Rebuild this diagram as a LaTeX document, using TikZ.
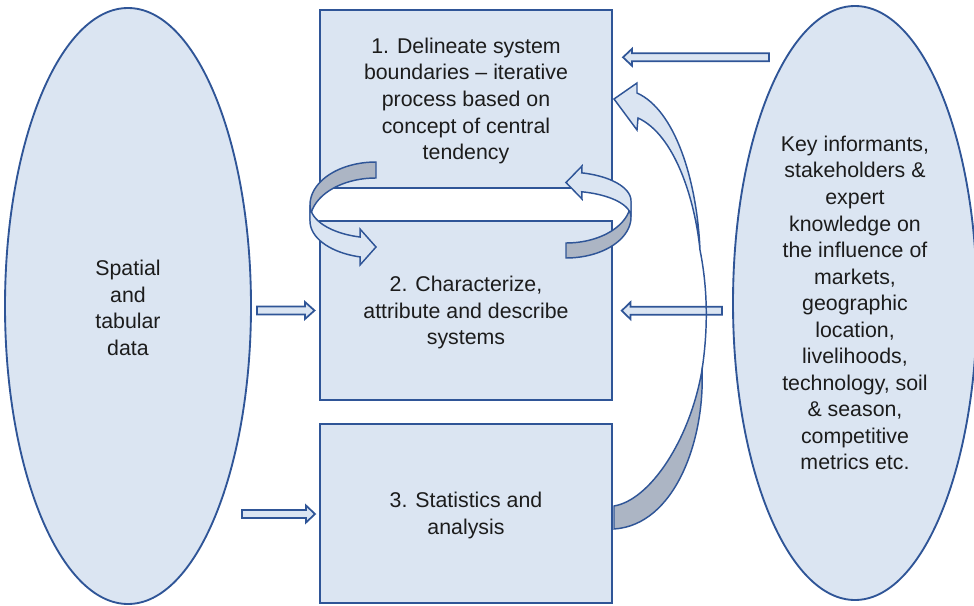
\documentclass[tikz,border=0pt]{standalone}
\usepackage{fontspec}
\setmainfont{Liberation Sans}
\usetikzlibrary{shapes.geometric}
\definecolor{pale}{RGB}{219,229,242}
\definecolor{edge}{RGB}{47,85,151}
\definecolor{shade}{RGB}{172,181,196}
\definecolor{ink}{RGB}{28,28,28}
% straight block arrow: tail x, head base x, tip x, centre y
\newcommand{\blockarrowpath}[4]{%
  \filldraw[blockarr] (#1,{#4-4}) -- (#2,{#4-4}) -- (#2,{#4-8.5}) -- (#3,#4)
    -- (#2,{#4+8.5}) -- (#2,{#4+4}) -- (#1,{#4+4}) -- cycle;}
\begin{document}
\begin{tikzpicture}[x=0.75pt,y=-0.75pt,
  txt/.style={font=\fontsize{16}{19.9}\selectfont, text=ink, align=center, inner sep=0pt},
  source/.style={ellipse, draw=edge, fill=pale, line width=1.4pt, inner sep=0pt},
  stepbox/.style={rectangle, draw=edge, fill=pale, line width=1.3pt,
    minimum width=219pt, inner sep=0pt},
  blockarr/.style={draw=edge, fill=pale, line width=1.3pt, line join=miter},
  ribbonfront/.style={draw=edge, fill=pale, line width=1.1pt, line join=miter},
  ribbonback/.style={draw=edge, fill=shade, line width=1.1pt, line join=miter}]

\useasboundingbox (0,0) rectangle (974,606);

% data sources
\node[source, minimum width=184.5pt, minimum height=447pt] (spatial) at (128,306) {};
\node[txt] (spatial-text) at ([yshift=-1.5pt]spatial.center)
  {Spatial\\and\\tabular\\data};
\node[source, minimum width=183pt, minimum height=445.5pt] (experts) at (855,303) {};
\node[txt] (experts-text) at (experts.center)
  {Key informants,\\stakeholders \&\\expert\\knowledge on\\the influence of\\markets,\\geographic\\location,\\livelihoods,\\technology, soil\\\& season,\\competitive\\metrics etc.};

% process steps
\node[stepbox, minimum height=133.5pt] (delineate) at (466,99) {};
\node[txt] (delineate-text) at ([yshift=-1.5pt]delineate.center)
  {1. Delineate system\\boundaries – iterative\\process based on\\concept of central\\tendency};
\node[stepbox, minimum height=134.25pt] (characterize) at (466,310.5) {};
\node[txt] (characterize-text) at ([yshift=-1.5pt]characterize.center)
  {2. Characterize,\\attribute and describe\\systems};
\node[stepbox, minimum height=134.25pt] (statistics) at (466,513.5) {};
\node[txt] (statistics-text) at ([yshift=-1.5pt]statistics.center)
  {3. Statistics and\\analysis};

% inputs from the sources
\blockarrowpath{257}{305}{314.5}{310.5}
\blockarrowpath{242}{306}{315}{514}
\blockarrowpath{769}{632}{623}{57.3}
\blockarrowpath{722}{630.5}{621.7}{310.7}

% left loop: step 1 down to step 2
\filldraw[ribbonback]
  plot[domain=270:180, samples=40, variable=\t] ({376+66*cos(\t)},{205+43*sin(\t)})
  -- plot[domain=180:270, samples=40, variable=\t] ({376+66*cos(\t)},{221+43*sin(\t)})
  -- cycle;
\filldraw[ribbonfront]
  plot[domain=180:104, samples=40, variable=\t] ({376+66*cos(\t)},{205+33*sin(\t)})
  -- (360,229) -- (376,247) -- (360,265)
  -- plot[domain=104:180, samples=40, variable=\t] ({376+66*cos(\t)},{221+37*sin(\t)})
  -- cycle;

% right loop: step 2 back up to step 1
\filldraw[ribbonback]
  plot[domain=90:0, samples=40, variable=\t] ({566+65*cos(\t)},{217+41*sin(\t)})
  -- plot[domain=0:90, samples=40, variable=\t] ({566+65*cos(\t)},{201+42*sin(\t)})
  -- cycle;
\filldraw[ribbonfront]
  plot[domain=0:-76, samples=40, variable=\t] ({566+65*cos(\t)},{201+29*sin(\t)})
  -- (582,166) -- (566,182.5) -- (582,199)
  -- plot[domain=-76:0, samples=40, variable=\t] ({566+65*cos(\t)},{217+26*sin(\t)})
  -- cycle;

% feedback ribbon from step 3 back to step 1
\filldraw[ribbonback] (614,506) .. controls (650,500) and (690,440) .. (702,370)
  .. controls (705,440) and (675,525) .. (614,529) -- cycle;
\draw[edge, line width=1.1pt] (702,370) .. controls (708,330) and (708,290) .. (700,250);
\filldraw[ribbonfront] (614,99) -- (637,83) -- (637,93)
  .. controls (675,110) and (697,180) .. (700,250)
  .. controls (695,200) and (675,135) .. (638,118) -- (637,130) -- cycle;

\end{tikzpicture}
\end{document}
